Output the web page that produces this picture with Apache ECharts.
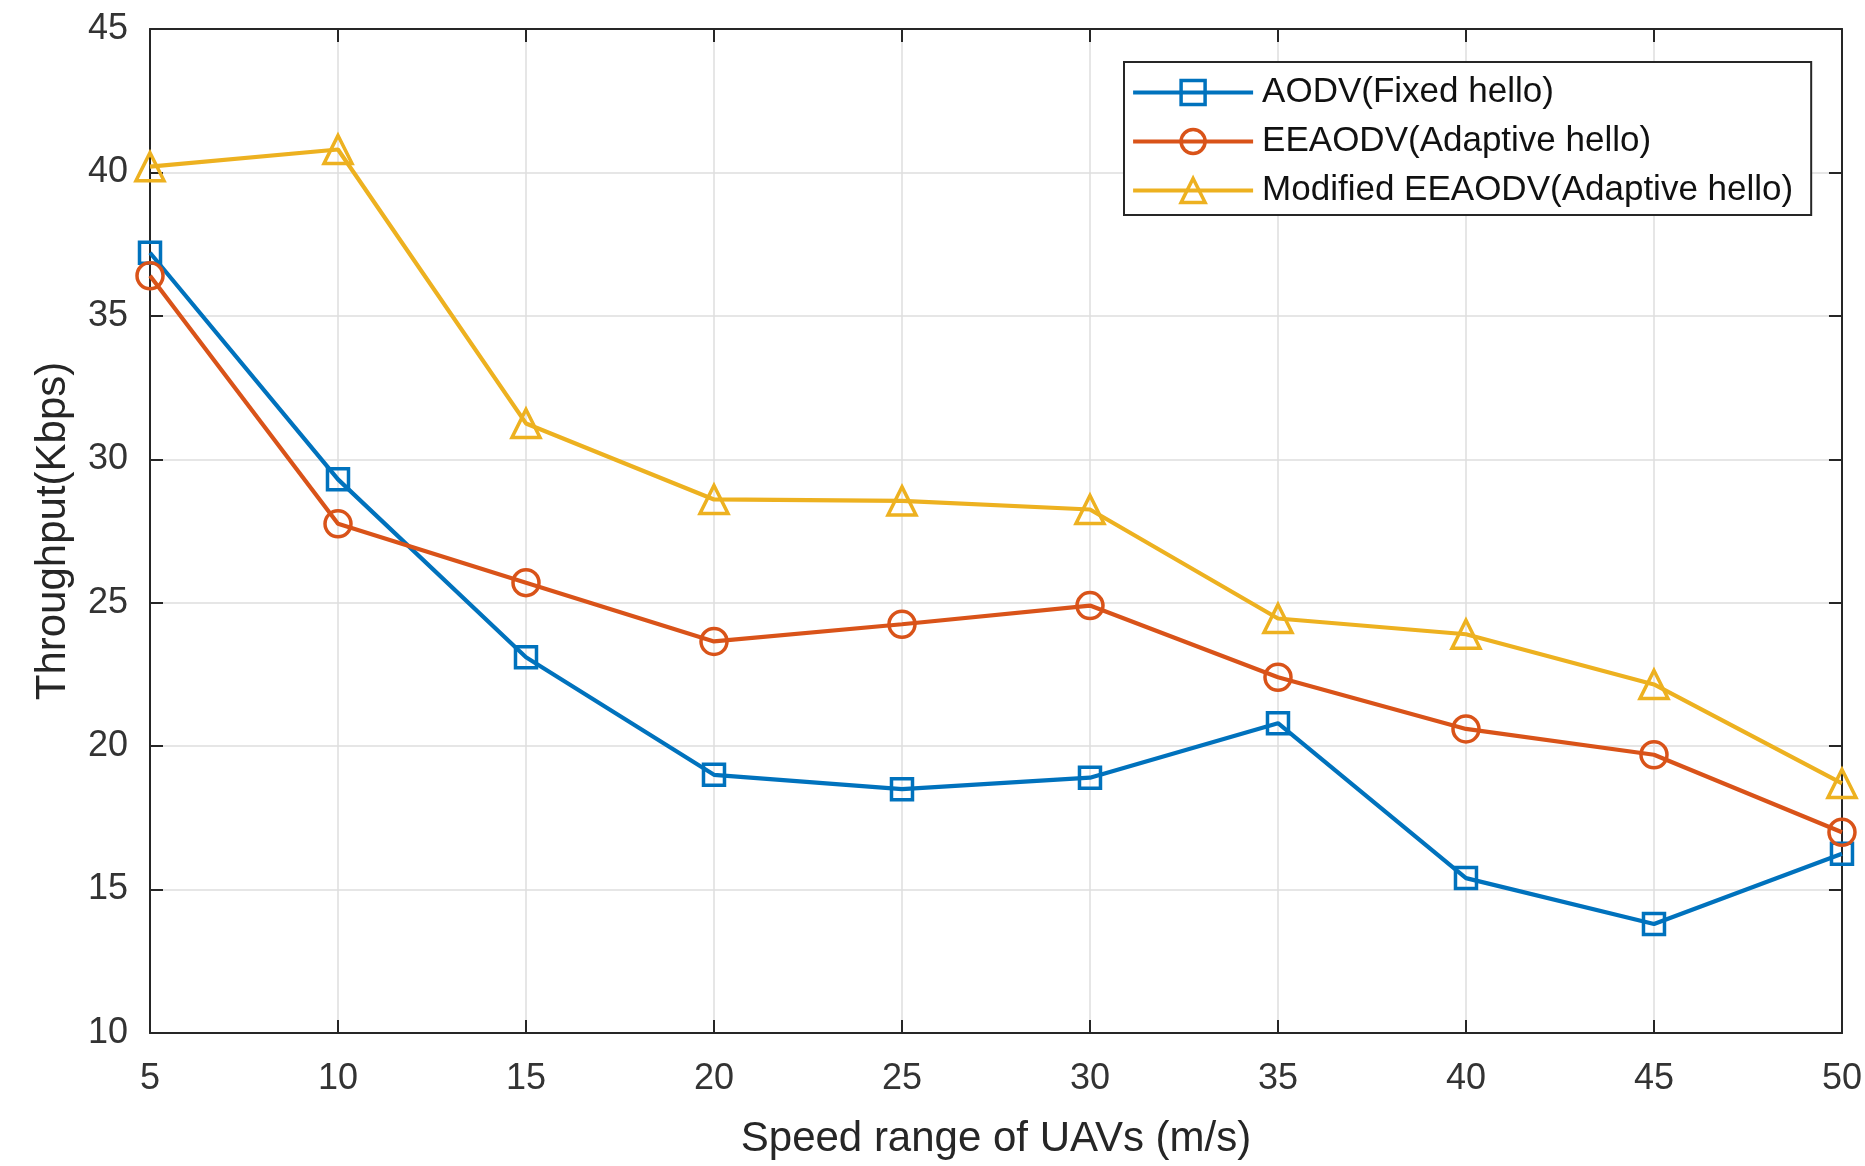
<!DOCTYPE html>
<html>
<head>
<meta charset="utf-8">
<script src="https://cdn.jsdelivr.net/npm/echarts@6/dist/echarts.min.js"></script>
<style>
html,body{margin:0;padding:0;background:#fff;}
#chart{width:1865px;height:1166px;}
</style>
</head>
<body>
<div id="chart"></div>
<script>
const speeds = [5, 10, 15, 20, 25, 30, 35, 40, 45, 50];
const aodv = [37.2, 29.3, 23.1, 19.0, 18.5, 18.9, 20.8, 15.4, 13.8, 16.25];
const eeaodv = [36.4, 27.75, 25.7, 23.65, 24.25, 24.9, 22.4, 20.6, 19.7, 17.0];
const modifiedEeaodv = [40.2, 40.8, 31.25, 28.6, 28.55, 28.25, 24.45, 23.9, 22.15, 18.7];
const seriesNames = ['AODV(Fixed hello)', 'EEAODV(Adaptive hello)', 'Modified EEAODV(Adaptive hello)'];
const xTitle = 'Speed range of UAVs (m/s)';
const yTitle = 'Throughput(Kbps)';

const colors = ['#0072BD', '#D95319', '#EDB120'];
const symbols = ['rect', 'circle', 'triangle'];
const symbolSizes = [21, 26, 28];
const axisColor = '#262626';
const font = 'Liberation Sans, Arial, Helvetica, sans-serif';

function pairs(ys) { return speeds.map((x, i) => [x, ys[i]]); }

const chart = echarts.init(document.getElementById('chart'), null, {renderer: 'canvas'});

const allData = [aodv, eeaodv, modifiedEeaodv];
const series = allData.map((ys, i) => ({
  name: seriesNames[i],
  type: 'line',
  xAxisIndex: 0,
  yAxisIndex: 0,
  data: pairs(ys),
  symbol: symbols[i],
  symbolSize: symbolSizes[i],
  showAllSymbol: true,
  clip: false,
  lineStyle: {color: colors[i], width: 4.2},
  itemStyle: {color: 'rgba(255,255,255,0)', borderColor: colors[i], borderWidth: 3.5},
  emphasis: {disabled: true},
  animation: false,
  z: 3 + i
}));

const option = {
  backgroundColor: '#fff',
  animation: false,
  grid: {left: 150, right: 22, top: 29, bottom: 133, containLabel: false},
  legend: {
    orient: 'vertical',
    left: 1124,
    top: 62,
    padding: [13, 18, 7, 7],
    itemGap: 14,
    itemWidth: 120,
    itemHeight: 30,
    borderColor: axisColor,
    borderWidth: 2,
    backgroundColor: '#fff',
    lineStyle: {width: 4.2},
    itemStyle: {borderWidth: 3.5},
    textStyle: {fontFamily: font, fontSize: 35, color: '#111', padding: [0, 0, 0, 4]},
    data: seriesNames
  },
  xAxis: [{
    type: 'value', min: 5, max: 50, interval: 5, position: 'bottom',
    name: xTitle, nameLocation: 'middle', nameGap: 85,
    nameTextStyle: {fontFamily: font, fontSize: 42, color: '#262626'},
    axisLine: {show: true, onZero: false, lineStyle: {color: axisColor, width: 2}},
    axisTick: {show: true, inside: true, length: 13, lineStyle: {color: axisColor, width: 2}},
    axisLabel: {fontFamily: font, fontSize: 36, color: '#333', margin: 28},
    splitLine: {show: true, lineStyle: {color: '#dedede', width: 1.5}}
  }, {
    type: 'value', min: 5, max: 50, interval: 5, position: 'top',
    axisLine: {show: true, onZero: false, lineStyle: {color: axisColor, width: 2}},
    axisTick: {show: true, inside: true, length: 13, lineStyle: {color: axisColor, width: 2}},
    axisLabel: {show: false},
    splitLine: {show: false}
  }],
  yAxis: [{
    type: 'value', min: 10, max: 45, interval: 5, position: 'left',
    name: yTitle, nameLocation: 'middle', nameGap: 76, nameRotate: 90,
    nameTextStyle: {fontFamily: font, fontSize: 42, color: '#262626'},
    axisLine: {show: true, onZero: false, lineStyle: {color: axisColor, width: 2}},
    axisTick: {show: true, inside: true, length: 13, lineStyle: {color: axisColor, width: 2}},
    axisLabel: {fontFamily: font, fontSize: 36, color: '#333', margin: 22},
    splitLine: {show: true, lineStyle: {color: '#dedede', width: 1.5}}
  }, {
    type: 'value', min: 10, max: 45, interval: 5, position: 'right',
    axisLine: {show: true, onZero: false, lineStyle: {color: axisColor, width: 2}},
    axisTick: {show: true, inside: true, length: 13, lineStyle: {color: axisColor, width: 2}},
    axisLabel: {show: false},
    splitLine: {show: false}
  }],
  series: series
};
chart.setOption(option);
</script>
</body>
</html>
